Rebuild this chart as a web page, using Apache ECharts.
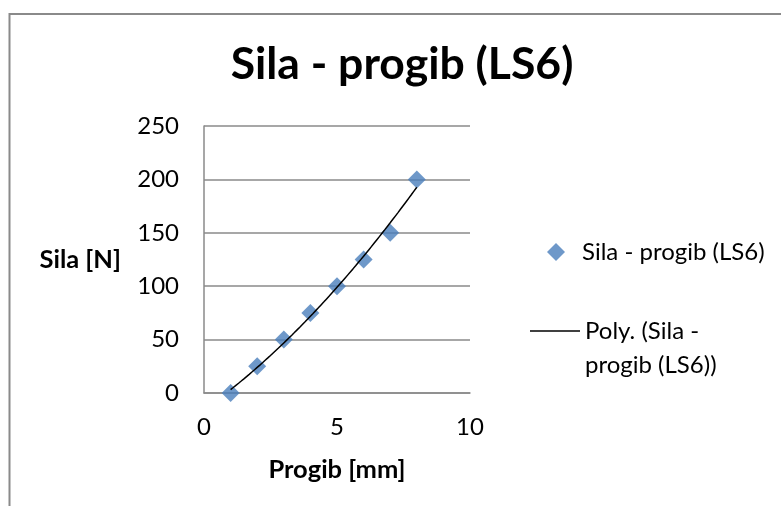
<!DOCTYPE html>
<html>
<head>
<meta charset="utf-8">
<script src="https://cdn.jsdelivr.net/npm/echarts@6/dist/echarts.min.js"></script>
<style>html,body{margin:0;padding:0;background:#fff;}#c{width:781px;height:506px;}</style>
</head>
<body>
<div id="c"></div>
<script>
// Data
const progib = [1, 2, 3, 4, 5, 6, 7, 8];          // mm
const sila = [0, 25, 50, 75, 100, 125, 150, 200];  // N
const xTicks = [0, 5, 10];
const yTicks = [0, 50, 100, 150, 200, 250];
const titleText = 'Sila - progib (LS6)';
const seriesName = 'Sila - progib (LS6)';
const trendName = 'Poly. (Sila -\nprogib (LS6))';

// Polynomial (order 2) least-squares trendline, as Excel computes it from the data
function polyfit2(xs, ys) {
  let n = xs.length, s = [0,0,0,0,0], t = [0,0,0];
  for (let i = 0; i < n; i++) {
    let p = 1;
    for (let k = 0; k < 5; k++) { s[k] += p; if (k < 3) t[k] += p * ys[i]; p *= xs[i]; }
  }
  const A = [[s[0], s[1], s[2], t[0]], [s[1], s[2], s[3], t[1]], [s[2], s[3], s[4], t[2]]];
  for (let i = 0; i < 3; i++) {
    for (let j = i + 1; j < 3; j++) {
      const f = A[j][i] / A[i][i];
      for (let k = i; k < 4; k++) A[j][k] -= f * A[i][k];
    }
  }
  const c = [0,0,0];
  for (let i = 2; i >= 0; i--) {
    let v = A[i][3];
    for (let k = i + 1; k < 3; k++) v -= A[i][k] * c[k];
    c[i] = v / A[i][i];
  }
  return c;
}
const coef = polyfit2(progib, sila);
const trend = [];
const x0 = Math.min(...progib), x1 = Math.max(...progib);
for (let i = 0; i <= 70; i++) {
  const x = x0 + (x1 - x0) * i / 70;
  trend.push([x, coef[0] + coef[1] * x + coef[2] * x * x]);
}

const FONT = 'Lato';
const chart = echarts.init(document.getElementById('c'), null, {renderer: 'canvas'});
chart.setOption({
  animation: false,
  backgroundColor: '#fff',
  title: {
    text: titleText,
    left: 397, top: 37, textAlign: 'center',
    textStyle: {fontFamily: FONT, fontWeight: 'bold', fontSize: 44.5, color: '#000'}
  },
  graphic: [{
    type: 'rect', silent: true, z: -1,
    shape: {x: 9.5, y: 14, width: 1000, height: 1000},
    style: {fill: 'none', stroke: '#8a8a8a', lineWidth: 2}
  }],
  legend: [{
    data: [seriesName],
    left: 542, top: 235, itemWidth: 18, itemHeight: 18,
    icon: 'diamond',
    textStyle: {fontFamily: FONT, fontSize: 24, color: '#000', padding: [0, 0, 0, 12]}
  }, {
    data: [trendName],
    left: 525, top: 275, itemWidth: 50, itemHeight: 1.5,
    icon: 'rect',
    // leading blank line keeps the first text line level with the line symbol
    formatter: name => ' \n' + name,
    textStyle: {fontFamily: FONT, fontSize: 24, color: '#000', lineHeight: 34}
  }],
  grid: {left: 204, right: 311, top: 126, bottom: 113},
  xAxis: {
    type: 'value', min: xTicks[0], max: xTicks[xTicks.length - 1], interval: 5,
    name: 'Progib [mm]', nameLocation: 'middle', nameGap: 77,
    nameTextStyle: {fontFamily: FONT, fontWeight: 'bold', fontSize: 25.5, color: '#000', verticalAlign: 'middle'},
    axisLine: {show: true, lineStyle: {color: '#8a8a8a', width: 1.5}},
    axisTick: {show: false},
    splitLine: {show: false},
    axisLabel: {fontFamily: FONT, fontSize: 24, color: '#000', margin: 22}
  },
  yAxis: {
    type: 'value', min: yTicks[0], max: yTicks[yTicks.length - 1], interval: 50,
    name: 'Sila [N]', nameLocation: 'middle', nameGap: 83, nameRotate: 0,
    nameTextStyle: {fontFamily: FONT, fontWeight: 'bold', fontSize: 25.5, color: '#000', align: 'right', verticalAlign: 'middle'},
    axisLine: {show: true, lineStyle: {color: '#8a8a8a', width: 1.5}},
    axisTick: {show: false},
    splitLine: {show: true, lineStyle: {color: '#8a8a8a', width: 1.5}},
    axisLabel: {fontFamily: FONT, fontSize: 24, color: '#000', margin: 25}
  },
  series: [{
    name: seriesName, type: 'scatter',
    data: progib.map((x, i) => [x, sila[i]]),
    symbol: 'diamond', symbolSize: 18,
    itemStyle: {color: '#4a7ebb'}, z: 2
  }, {
    name: trendName, type: 'line', data: trend,
    showSymbol: false, symbol: 'none', smooth: false,
    lineStyle: {color: '#000', width: 1.5}, itemStyle: {color: '#000'}, z: 3
  }]
});
</script>
</body>
</html>
